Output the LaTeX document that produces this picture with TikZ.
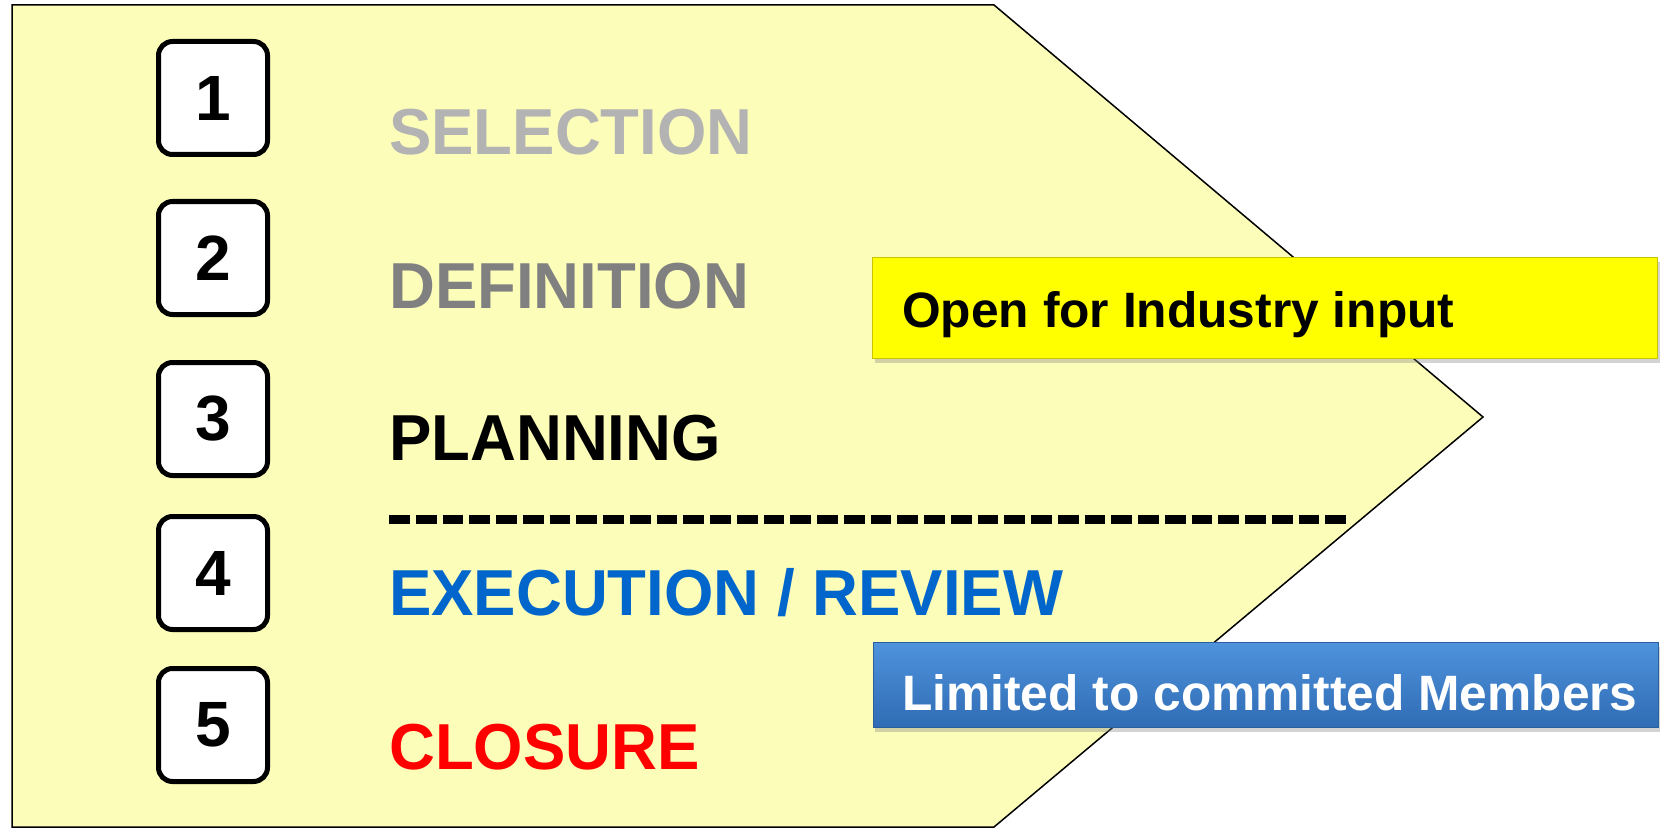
\documentclass[tikz,border=0pt]{standalone}
\usepackage{fontspec}
\setmainfont{Liberation Sans}
\usepackage{xcolor}
\usetikzlibrary{shadows}
\definecolor{PaleYellow}{HTML}{FDFDBA}
\definecolor{LightGrayText}{HTML}{B3B3B3}
\definecolor{MidGrayText}{HTML}{808080}
\definecolor{StepBlue}{HTML}{0066CC}
\definecolor{StepRed}{HTML}{FF0000}
\definecolor{Lemon}{HTML}{FFFF00}
\definecolor{LemonEdge}{HTML}{C9C400}
\definecolor{BarTop}{HTML}{4F93DD}
\definecolor{BarBottom}{HTML}{2F6CB4}
\definecolor{BarEdge}{HTML}{2A5F9E}

\begin{document}
\begin{tikzpicture}[x=1pt, y=-1pt,
      numbox/.style={draw=black, line width=5pt, rounded corners=14pt, fill=white,
                     minimum width=109pt, minimum height=113pt, inner sep=0pt,
                     font=\fontsize{64}{70}\selectfont\bfseries},
      phase/.style={anchor=base west, inner sep=0pt, xscale=0.977,
                    font=\fontsize{65}{72}\selectfont\bfseries},
      banner/.style={minimum width=785pt, minimum height=101pt, inner sep=0pt,
                     drop shadow={opacity=0.35, shadow xshift=2pt, shadow yshift=-5pt}},
      bannertext/.style={anchor=base west, inner sep=0pt,
                         font=\fontsize{49.7}{55}\selectfont\bfseries}]
      \useasboundingbox (0,0) rectangle (1664,829);
      % Arrow-shaped background
      \draw[line width=1.5pt, fill=PaleYellow]
        (12,5) -- (994,5) -- (1483,417) -- (994,827) -- (12,827) -- cycle;
      % Step numbers
      \node[numbox] (n1) at (213, 98)  {1};
      \node[numbox] (n2) at (213,258)  {2};
      \node[numbox] (n3) at (213,419)  {3};
      \node[numbox] (n4) at (213,573)  {4};
      \node[numbox] (n5) at (213,725)  {5};
      % Phase names
      \node[phase, text=LightGrayText] (sel)  at (389,155) {SELECTION};
      \node[phase, text=MidGrayText]   (def)  at (389,308) {DEFINITION};
      \node[phase, text=black]         (plan) at (389,460) {PLANNING};
      \node[phase, text=StepBlue]      (exec) at (389,615) {EXECUTION / REVIEW};
      \node[phase, text=StepRed]       (clos) at (389,769) {CLOSURE};
      % Split between the open and the closed phases
      \coordinate (cutL) at (389,519);
      \coordinate (cutR) at (1346,519);
      \draw[line width=9pt, dash pattern=on 20.75pt off 6pt] (cutL) -- (cutR);
      % Access banners
      \node[banner, fill=Lemon, draw=LemonEdge, line width=1pt] (open) at (1265,307.5) {};
      \node[bannertext] at (902,327) {Open for Industry input};
      \node[banner, minimum height=85pt, top color=BarTop, bottom color=BarBottom,
            draw=BarEdge, line width=1pt] (members) at (1265.5,684.5) {};
      \node[bannertext, text=white] at (902,710) {Limited to committed Members};
    \end{tikzpicture}
\end{document}
